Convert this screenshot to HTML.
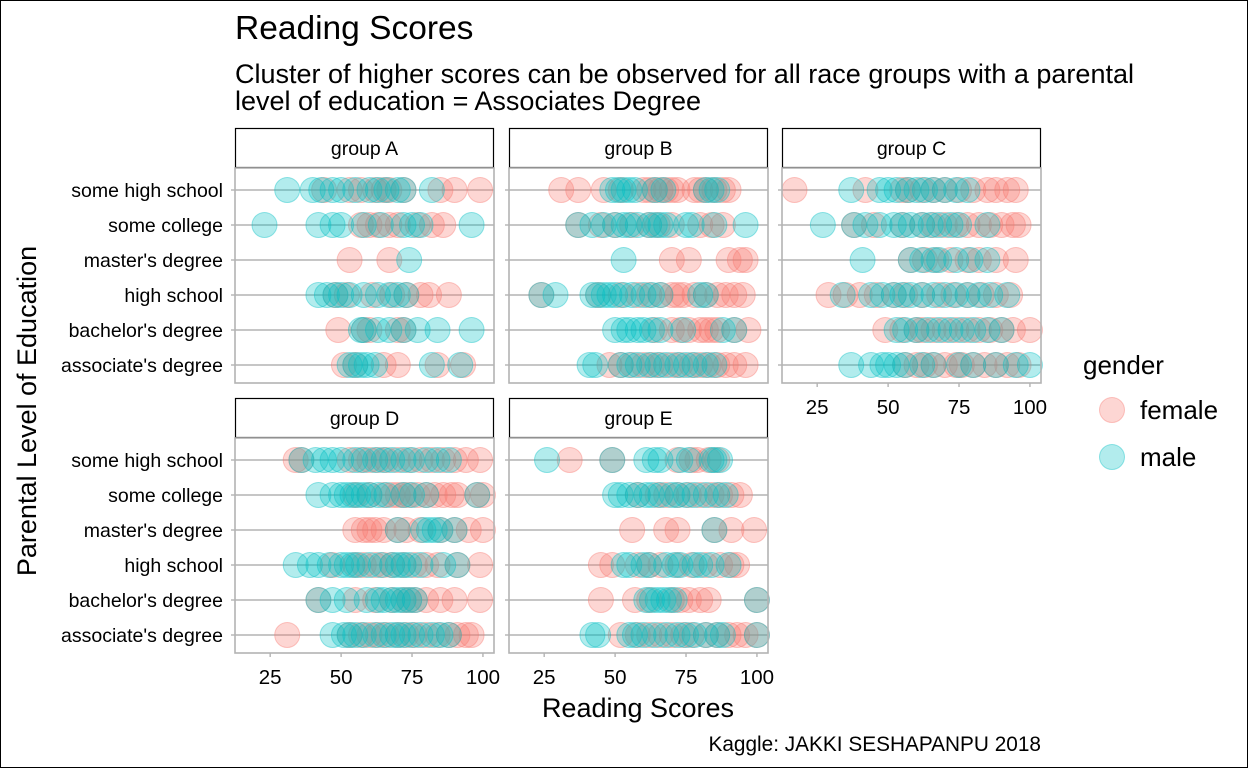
<!DOCTYPE html>
<html><head><meta charset="utf-8"><style>
body{margin:0;background:#fff;}
svg{display:block;font-family:"Liberation Sans",Arial,sans-serif;}
</style></head><body>
<svg id="chart" width="1248" height="768" viewBox="0 0 1248 768">
<rect x="0.5" y="0.5" width="1247" height="767" fill="#fff" stroke="#000"/>
<text x="235" y="39" font-size="33.5" fill="#000">Reading Scores</text>
<text x="235" y="83" font-size="27" fill="#000">Cluster of higher scores can be observed for all race groups with a parental</text>
<text x="235" y="110" font-size="27" fill="#000">level of education = Associates Degree</text>
<text transform="translate(36,411) rotate(-90)" text-anchor="middle" font-size="27" fill="#000">Parental Level of Education</text>
<text x="638" y="717" text-anchor="middle" font-size="27" fill="#000">Reading Scores</text>
<text x="1041" y="751" text-anchor="end" font-size="20.8" fill="#000">Kaggle: JAKKI SESHAPANPU 2018</text>
<g>
<text x="1083" y="374" font-size="26" fill="#000">gender</text>
<circle cx="1112" cy="410" r="12.5" fill="rgba(248,118,109,0.3)" stroke="rgba(248,118,109,0.4)"/>
<text x="1140" y="419" font-size="26" fill="#000">female</text>
<circle cx="1112" cy="457" r="12.5" fill="rgba(0,191,196,0.3)" stroke="rgba(0,191,196,0.4)"/>
<text x="1140" y="466" font-size="26" fill="#000">male</text>
</g>
<g id="panels"></g>
</svg>
<script>
const groups = ["group A","group B","group C","group D","group E"];
const levels = ["some high school","some college","master's degree","high school","bachelor's degree","associate's degree"];
const xTicks = [25,50,75,100];
// female scores per group, per level (same order as levels)
const femaleA = [[44,53,57,62,65,67,72,85,90,99],[57,60,63,67,70,77,82,86],[53,67],[48,52,61,68,73,78,81,88],[49,58,60,70,72],[51,55,65,70,84,93]];
const maleA = [[31,40,43,47,50,55,60,63,66,70,72,82],[23,42,47,50,58,64,72,75,78,96],[74],[42,45,48,50,53,58,63,67,70,73],[57,58,63,67,72,77,84,96],[53,55,57,59,62,82,92]];
const femaleB = [[31,37,46,52,60,62,64,66,68,70,72,78,80,82,85,88,90],[37,45,50,56,62,65,70,80,84,88],[70,76,90,94,96],[24,44,52,58,62,66,70,72,74,78,82,86,89,92,95],[64,70,73,76,80,82,84,86,92,97],[48,52,56,60,63,66,70,73,77,80,83,86,89,92,96]];
const maleB = [[49,51,53,55,57,64,67,82,84,86],[37,42,46,50,53,55,58,62,64,66,68,75,77,85,96],[53],[24,29,42,44,46,48,50,53,56,60,63,66,80,82],[50,53,55,58,60,63,66,74,88,92],[41,43,52,55,58,62,65,68,72,75,78,82,85]];
const femaleC = [[17,42,55,57,62,66,70,75,80,85,88,92,95],[38,45,55,62,66,70,74,78,82,86,90,94,96],[58,63,67,72,78,82,88,95],[29,35,40,46,52,56,62,68,73,78,83,88,93],[49,55,60,62,66,70,74,78,82,86,90,94,100],[56,60,63,66,70,74,76,80,84,88,92,96]];
const maleC = [[37,47,50,53,57,60,63,66,70,74,78],[27,38,42,47,52,55,58,62,65,68,72,75,85],[41,58,62,66,68,74,79,85],[34,44,48,52,55,58,62,66,70,74,78,82,86,92],[53,56,60,64,68,72,76,80,85,90],[37,44,48,50,53,56,62,66,75,80,88,95,100]];
const femaleD = [[34,36,53,57,60,63,66,70,74,78,82,86,90,94,99],[55,60,65,68,70,72,74,77,80,83,86,89,91,98,100],[55,58,60,62,65,70,73,78,85,90,95,100],[47,55,58,62,65,68,72,76,80,84,91,99],[42,55,62,68,72,74,76,80,85,90,99],[31,53,57,60,63,66,70,73,76,80,84,88,91,94,96]];
const maleD = [[36,41,44,47,50,55,58,62,65,68,72,75,80,84,88],[42,47,50,52,54,56,58,60,63,66,72,75,80,98],[70,79,81,83,85,90],[34,39,42,46,50,52,54,56,60,64,68,70,72,74,78,86,91],[42,47,52,59,63,65,68,70,72,74,76],[47,51,53,55,58,62,65,68,70,72,75,78,82,85,88]];
const femaleE = [[34,49,72,77,79,83,86],[58,65,68,72,76,80,84,87,91,94],[56,68,72,85,91,99],[45,49,58,62,66,72,77,82,87,91,93],[45,57,62,70,73,76,80,83,100],[52,58,62,66,70,74,77,82,86,90,93,96,100]];
const maleE = [[26,49,61,64,66,73,76,84,85,87],[50,52,55,58,61,63,66,70,72,75,78,82,86,89],[85],[53,55,60,62,68,71,73,78,80,84,90],[61,63,65,67,69,71,100],[42,44,55,57,60,64,68,72,75,78,82,86,88,100]];
const femaleData = [femaleA,femaleB,femaleC,femaleD,femaleE];
const maleData = [maleA,maleB,maleC,maleD,maleE];

const NS="http://www.w3.org/2000/svg";
const root=document.getElementById('panels');
function mk(tag,attrs,parent){const e=document.createElementNS(NS,tag);for(const k in attrs)e.setAttribute(k,attrs[k]);(parent||root).appendChild(e);return e;}
const panelLeft=[235,509,782,235,509], panelTop=[168,168,168,438,438];
const PW=259, PH=215, XMIN=12.6, XMAX=103.9;
function xScale(p,v){return panelLeft[p]+(v-XMIN)/(XMAX-XMIN)*PW;}
function yScale(p,i){return panelTop[p]+22+i*35;}
const GRID="#b3b3b3";
groups.forEach((g,p)=>{
  const L=panelLeft[p],T=panelTop[p];
  const grp=mk('g',{});
  
  
  const strip=mk('rect',{x:L+0.5,y:T-39.5,width:PW-1,height:39,fill:'#fff',stroke:'#000','stroke-width':1.2},grp);
  
  
  const st=mk('text',{x:L+PW/2,y:T-13,'text-anchor':'middle','font-size':19.5,fill:'#000'},grp);
  st.textContent=g;
  
  
  levels.forEach((lv,i)=>{
    const y=yScale(p,i);
    const gl=mk('line',{x1:L,x2:L+PW,y1:y,y2:y,stroke:GRID,'stroke-width':1.6},grp);
    
    
    mk('line',{x1:L-4,x2:L,y1:y,y2:y,stroke:GRID,'stroke-width':1.4},grp);
    if(p===0||p===3){
      const t=mk('text',{x:L-12,y:y+7,'text-anchor':'end','font-size':19.5,fill:'#000'},grp);
      t.textContent=lv;
      
      
    }
  });
  const fem=femaleData[p], mal=maleData[p];
  levels.forEach((lv,i)=>{
    fem[i].forEach(v=>{
      const c=mk('circle',{cx:xScale(p,v),cy:yScale(p,i),r:12.5,fill:'rgba(248,118,109,0.3)',stroke:'rgba(248,118,109,0.4)'},grp);
      
      
    });
  });
  levels.forEach((lv,i)=>{
    mal[i].forEach(v=>{
      const c=mk('circle',{cx:xScale(p,v),cy:yScale(p,i),r:12.5,fill:'rgba(0,191,196,0.3)',stroke:'rgba(0,191,196,0.4)'},grp);
      
      
    });
  });
  const border=mk('rect',{x:L,y:T,width:PW,height:PH,fill:'none',stroke:GRID,'stroke-width':1.6},grp);
  
  
  if(p>=2){
    xTicks.forEach(v=>{
      const x=xScale(p,v);
      mk('line',{x1:x,x2:x,y1:T+PH,y2:T+PH+4,stroke:GRID,'stroke-width':1.4},grp);
      const t=mk('text',{x:x,y:T+PH+31,'text-anchor':'middle','font-size':20.5,fill:'#000'},grp);
      t.textContent=v;
      
      
    });
  }
});
</script>
</body></html>
